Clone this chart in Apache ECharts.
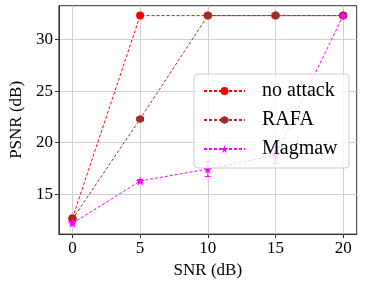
<!DOCTYPE html>
<html><head><meta charset="utf-8">
<script src="https://cdn.jsdelivr.net/npm/echarts@6/dist/echarts.min.js"></script>
<style>html,body{margin:0;padding:0;background:#fff}#c{width:365px;height:284px}</style>
</head><body><div id="c"></div>
<script>
const snr = [0, 5, 10, 15, 20];
const noAttack = [12.7, 32.3, 32.3, 32.3, 32.3];
const rafa = [12.6, 22.3, 32.3, 32.3, 32.3];
const magmaw = [12.2, 16.3, 17.45, 18.8, 32.3];
const magmawErr = [0.15, 0.15, 0.72, 0.8, 0.1];
const xTicks = [0, 5, 10, 15, 20];
const yTicks = [15, 20, 25, 30];

const font = 'Liberation Serif';
const star = 'path://M0,-1L0.2245,-0.309L0.9511,-0.309L0.3633,0.118L0.5878,0.809L0,0.382L-0.5878,0.809L-0.3633,0.118L-0.9511,-0.309L-0.2245,-0.309Z';
const hexagon = 'path://M0,-1L0.866,-0.5L0.866,0.5L0,1L-0.866,0.5L-0.866,-0.5Z';

function pairs(ys){ return snr.map((x,i)=>[x, ys[i]]); }

const chart = echarts.init(document.getElementById('c'), null, {renderer:'canvas'});
const dash = [3, 2];
chart.setOption({
  animation: false,
  grid: {left: 48.5, top: 5.7, right: 8.3, bottom: 48, show: true, borderColor: '#333', borderWidth: 1, backgroundColor: 'transparent'},
  xAxis: {
    type: 'value', min: -1, max: 21,
    name: 'SNR (dB)', nameLocation: 'middle', nameGap: 25,
    nameTextStyle: {fontFamily: font, fontSize: 17, color: '#000'},
    axisLine: {show: true, onZero: false, lineStyle: {color: '#333'}},
    axisTick: {show: true, customValues: xTicks, length: 4, lineStyle: {color: '#333'}},
    axisLabel: {customValues: xTicks, fontFamily: font, fontSize: 17, color: '#000', margin: 6},
    splitLine: {show: true, lineStyle: {color: '#d0d0d0', width: 1}}
  },
  yAxis: {
    type: 'value', min: 11.16, max: 33.26,
    name: 'PSNR (dB)', nameLocation: 'middle', nameGap: 31,
    nameTextStyle: {fontFamily: font, fontSize: 17, color: '#000'},
    axisLine: {show: true, onZero: false, lineStyle: {color: '#333'}},
    axisTick: {show: true, customValues: yTicks, length: 4, lineStyle: {color: '#333'}},
    axisLabel: {customValues: yTicks, fontFamily: font, fontSize: 17, color: '#000', margin: 6},
    splitLine: {show: true, lineStyle: {color: '#d0d0d0', width: 1}}
  },
  legend: {
    left: 194, top: 74, z: 10, zlevel: 0,
    orient: 'vertical',
    padding: [7, 8, 9, 9],
    itemWidth: 41, itemHeight: 10, itemGap: 9,
    backgroundColor: 'rgba(255,255,255,0.8)',
    borderColor: '#cccccc', borderWidth: 1, borderRadius: 4,
    textStyle: {fontFamily: font, fontSize: 20, color: '#000', lineHeight: 20, padding: [0, 0, 0, 12], width: 79},
    data: ['no attack', 'RAFA', 'Magmaw']
  },
  series: [
    {name: 'no attack', type: 'line', data: pairs(noAttack), symbol: 'circle', symbolSize: 8,
     itemStyle: {color: '#ff0000'}, lineStyle: {color: '#ff0000', width: 1, type: dash}, z: 2},
    {name: 'RAFA', type: 'line', data: pairs(rafa), symbol: hexagon, symbolSize: 8,
     itemStyle: {color: '#a52a2a'}, lineStyle: {color: '#a52a2a', width: 1, type: dash}, z: 3},
    {name: 'Magmaw', type: 'line', data: pairs(magmaw), symbol: star, symbolSize: 9,
     itemStyle: {color: '#ff00ff'}, lineStyle: {color: '#ff00ff', width: 1, type: dash}, z: 4},
    {name: 'Magmaw', type: 'custom', z: 4,
     data: snr.map((x,i)=>[x, magmaw[i]-magmawErr[i], magmaw[i]+magmawErr[i]]),
     renderItem: function(params, api){
       const lo = api.coord([api.value(0), api.value(1)]);
       const hi = api.coord([api.value(0), api.value(2)]);
       const w = 3;
       const st = {stroke: '#ff00ff', lineWidth: 1};
       return {type: 'group', children: [
         {type: 'line', shape: {x1: lo[0], y1: lo[1], x2: hi[0], y2: hi[1]}, style: st},
         {type: 'line', shape: {x1: lo[0]-w, y1: lo[1], x2: lo[0]+w, y2: lo[1]}, style: st},
         {type: 'line', shape: {x1: hi[0]-w, y1: hi[1], x2: hi[0]+w, y2: hi[1]}, style: st}
       ]};
     }}
  ]
});
</script></body></html>
